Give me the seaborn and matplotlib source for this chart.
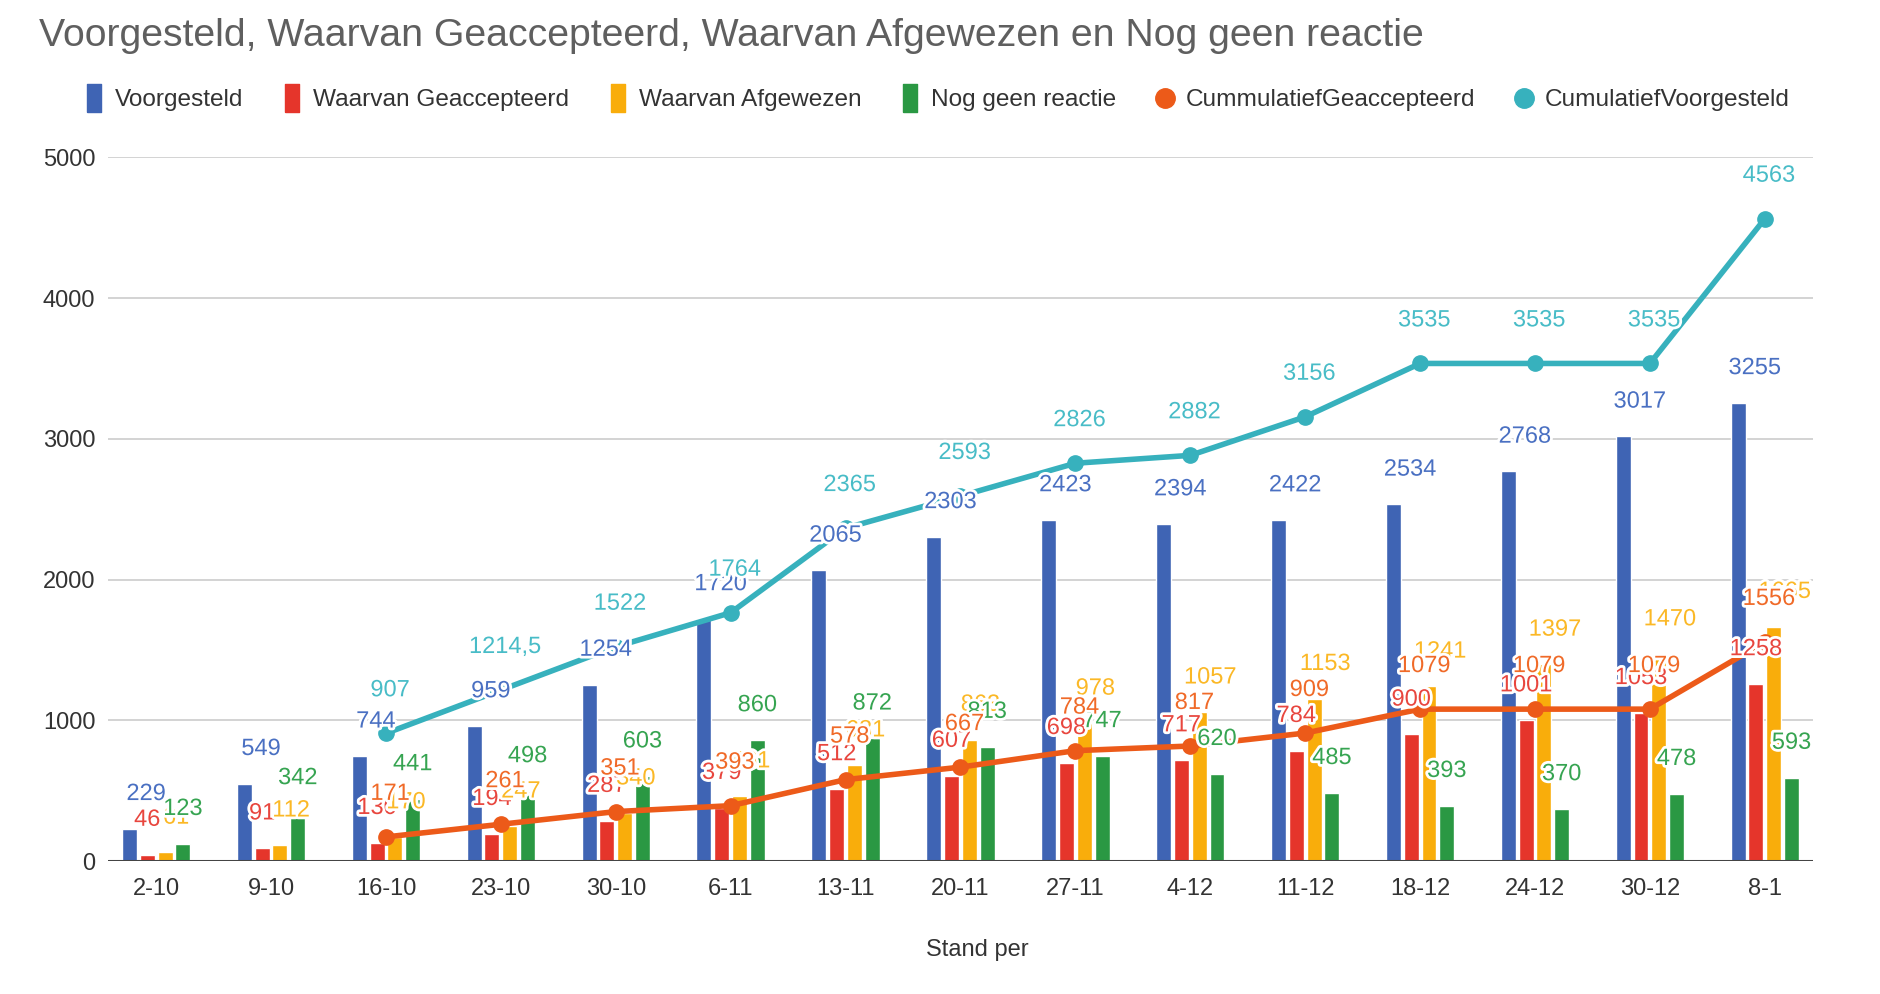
import numpy as np
import pandas as pd
import seaborn as sns
import matplotlib
matplotlib.use('Agg')
import matplotlib.pyplot as plt
import matplotlib.patheffects as pe
from matplotlib.lines import Line2D

# data
datums = ['2-10', '9-10', '16-10', '23-10', '30-10', '6-11', '13-11', '20-11',
          '27-11', '4-12', '11-12', '18-12', '24-12', '30-12', '8-1']
voorgesteld = [229, 549, 744, 959, 1254, 1720, 2065, 2303, 2423, 2394, 2422, 2534, 2768, 3017, 3255]
geaccepteerd = [46, 91, 130, 194, 287, 379, 512, 607, 698, 717, 784, 900, 1001, 1053, 1258]
afgewezen = [61, 112, 170, 247, 340, 461, 681, 863, 978, 1057, 1153, 1241, 1397, 1470, 1665]
geen_reactie = [123, 342, 441, 498, 603, 860, 872, 813, 747, 620, 485, 393, 370, 478, 593]
cum_geaccepteerd = [np.nan, np.nan, 171, 261, 351, 393, 578, 667, 784, 817, 909, 1079, 1079, 1079, 1556]
cum_voorgesteld = [np.nan, np.nan, 907, 1214.5, 1522, 1764, 2365, 2593, 2826, 2882, 3156, 3535, 3535, 3535, 4563]

bar_namen = ['Voorgesteld', 'Waarvan Geaccepteerd', 'Waarvan Afgewezen', 'Nog geen reactie']
lijn_namen = ['CummulatiefGeaccepteerd', 'CumulatiefVoorgesteld']

kleuren = ['#3f64b4', '#e5352b', '#f9ad0b', '#2a9843', '#ec5a19', '#37b1bd']
label_kleuren = ['#4a70c2', '#e8463e', '#fbb826', '#36a451', '#f06a28', '#48bcc7']

sns.set_style('white')
plt.rcParams['font.family'] = ['Liberation Sans', 'DejaVu Sans']

df = pd.DataFrame({'Stand per': datums * 4,
                   'waarde': voorgesteld + geaccepteerd + afgewezen + geen_reactie,
                   'reeks': sum([[n] * len(datums) for n in bar_namen], [])})

fig = plt.figure(figsize=(18.8, 9.94), dpi=100)
ax = fig.add_axes([0.0574, 0.1338, 0.907, 0.708])

sns.barplot(data=df, x='Stand per', y='waarde', hue='reeks', hue_order=bar_namen,
            palette=kleuren[:4], saturation=1, width=0.62, gap=0.16, legend=False,
            ax=ax, zorder=3)

pos = np.arange(len(datums))
ax.plot(pos, cum_geaccepteerd, color=kleuren[4], lw=4, marker='o', ms=11, zorder=4)
ax.plot(pos, cum_voorgesteld, color=kleuren[5], lw=4, marker='o', ms=11, zorder=4)

halo = [pe.withStroke(linewidth=4, foreground='white')]


def fmt(v):
    if float(v).is_integer():
        return str(int(v))
    return str(v).replace('.', ',')


# labels on the bars (blue and yellow labels sit a bit to the right)
verschuiving = [12, 0, 8, 0]
for cont, reeks, kl, dx in zip(ax.containers, [voorgesteld, geaccepteerd, afgewezen, geen_reactie],
                               label_kleuren, verschuiving):
    for patch, v in zip(cont.patches, reeks):
        x = patch.get_x() + patch.get_width() / 2
        ax.annotate(fmt(v), (x, v), xytext=(dx, 25), textcoords='offset points',
                    ha='center', va='center', fontsize=17, color=kl,
                    path_effects=halo, zorder=6, annotation_clip=False)

# labels on the lines
for reeks, kl in zip([cum_geaccepteerd, cum_voorgesteld], label_kleuren[4:]):
    for x, v in zip(pos, reeks):
        if np.isnan(v):
            continue
        ax.annotate(fmt(v), (x, v), xytext=(3, 31), textcoords='offset points',
                    ha='center', va='center', fontsize=17, color=kl,
                    path_effects=halo, zorder=7, annotation_clip=False)

ax.set_xlim(-0.42, 14.42)
ax.set_ylim(0, 5000)
ax.set_yticks(range(0, 5001, 1000))
ax.yaxis.grid(True, color='#cccccc', lw=1.2, zorder=0)
ax.set_axisbelow(True)
ax.axhline(0, color='#444444', lw=2.2, zorder=5)
for s in ax.spines.values():
    s.set_visible(False)
ax.tick_params(axis='both', length=0, labelsize=17, labelcolor='#333333')
ax.tick_params(axis='y', pad=9)
ax.tick_params(axis='x', pad=12)
ax.set_ylabel('')
ax.set_xlabel('Stand per', fontsize=17, color='#333333', labelpad=28, x=0.51)

fig.text(0.021, 0.964, 'Voorgesteld, Waarvan Geaccepteerd, Waarvan Afgewezen en Nog geen reactie',
         fontsize=28.3, color='#5f5f5f', va='center', ha='left')

staaf = [(-0.5, -1), (0.5, -1), (0.5, 1), (-0.5, 1), (-0.5, -1)]
handles = [Line2D([], [], ls='none', marker=staaf, ms=20, color=k) for k in kleuren[:4]]
handles += [Line2D([], [], ls='none', marker='o', ms=14, color=k) for k in kleuren[4:]]
fig.legend(handles, bar_namen + lijn_namen, loc='center left', bbox_to_anchor=(0.032, 0.899),
           ncol=6, frameon=False, fontsize=17.6, handletextpad=0.35, columnspacing=1.5,
           handlelength=1.0, labelcolor='#333333')

fig.savefig('out.png', dpi=100)
